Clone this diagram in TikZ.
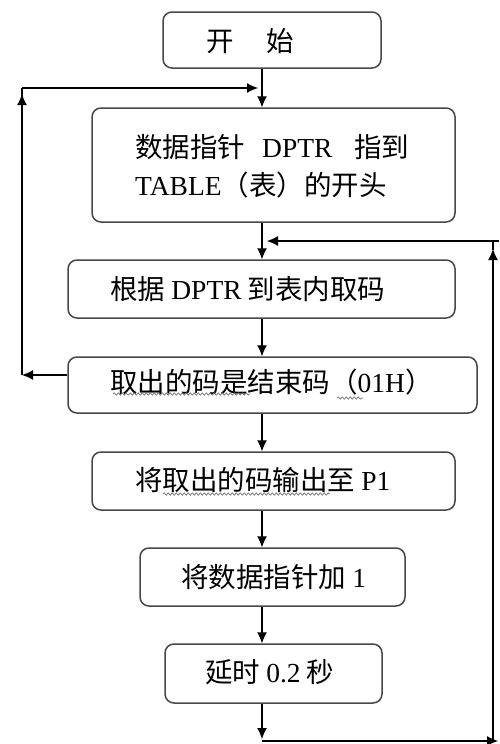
\documentclass[tikz,border=0pt]{standalone}
\usepackage{fontspec}
\setmainfont{Noto Sans CJK SC}
\newfontfamily\latfont{Liberation Serif}
\usetikzlibrary{arrows.meta,decorations.pathmorphing}
\tikzset{
  flowbox/.style={draw=black!72, line width=1.5pt, rounded corners=9pt, fill=white, inner sep=0pt},
  label/.style={inner sep=0pt, anchor=west, font=\fontsize{27.5}{38}\selectfont, align=left},
  arr/.style={line width=1.1pt, -{Latex[length=11pt,width=10pt]}},
  plain/.style={line width=1.1pt},
  squig/.style={draw=black!55, line width=0.7pt, decorate, decoration={snake, segment length=4pt, amplitude=1.2pt}}
}
\begin{document}
\begin{tikzpicture}[x=1pt,y=-1pt]
\useasboundingbox[fill=white] (0,0) rectangle (499,744);
% boxes
\node[flowbox, minimum width=218pt, minimum height=56pt] (b1) at (272,40) {};
\node[flowbox, minimum width=363pt, minimum height=114pt] (b2) at (273.5,165) {};
\node[flowbox, minimum width=387pt, minimum height=58pt] (b3) at (261.5,289) {};
\node[flowbox, minimum width=409pt, minimum height=56pt] (b4) at (272.5,385) {};
\node[flowbox, minimum width=363pt, minimum height=58pt] (b5) at (273.5,481) {};
\node[flowbox, minimum width=265pt, minimum height=58pt] (b6) at (272.5,577) {};
\node[flowbox, minimum width=217pt, minimum height=59pt] (b7) at (273.5,673.5) {};
% texts
\node[label] (t1) at (206,41) {开\hspace{33pt}始};
\node[label] (t2) at (135,166) {数据指针\hspace{17pt}{\latfont DPTR}\hspace{22pt}指到\\{\latfont TABLE}（表）的开头};
\node[label] (t3) at (110,289) {根据 {\latfont DPTR} 到表内取码};
\node[label] (t4) at (110,382) {取出的码是结束码（{\latfont 01H}）};
\node[label] (t5) at (135,480) {将取出的码输出至 {\latfont P1}};
\node[label] (t6) at (181,577) {将数据指针加 {\latfont 1}};
\node[label] (t7) at (205,672) {延时 {\latfont 0.2} 秒};
% squiggles
\draw[squig] (113,394) -- (250,394);
\draw[squig] (337,398) -- (363,398);
\draw[squig] (163,494) -- (330,494);
% spine and loop coordinates
\coordinate (spine) at (262,0);
\coordinate (L1) at (22,375);
\coordinate (L2) at (22,88);
\coordinate (L3) at (258,88);
\coordinate (R1) at (262,741);
\coordinate (R2) at (498,741);
\coordinate (R2b) at (493,741);
\coordinate (R3) at (493,241);
\coordinate (R3b) at (499,241);
\coordinate (R4) at (267,241);
% main arrows
\draw[arr] (b1.south -| spine) -- (b2.north -| spine);
\draw[arr] (b2.south -| spine) -- (b3.north -| spine);
\draw[arr] (b3.south -| spine) -- (b4.north -| spine);
\draw[arr] (b4.south -| spine) -- (b5.north -| spine);
\draw[arr] (b5.south -| spine) -- (b6.north -| spine);
\draw[arr] (b6.south -| spine) -- (b7.north -| spine);
% left loop
\draw[arr] (b4.west |- L1) -- (L1);
\draw[arr, shorten >=6pt] (L1) -- (L2);
\draw[plain] (L2 |- 0,97) -- (L2);
\draw[arr] (L2) -- (L3);
% right loop
\draw[arr, shorten >=2pt] (b7.south -| spine) -- (R1);
\draw[arr] (R1) -- (R2);
\draw[arr, shorten >=8pt] (R2b) -- (R3);
\draw[plain] (R3 |- 0,250) -- (R3);
\draw[arr] (R3b) -- (R4);
\end{tikzpicture}
\end{document}
